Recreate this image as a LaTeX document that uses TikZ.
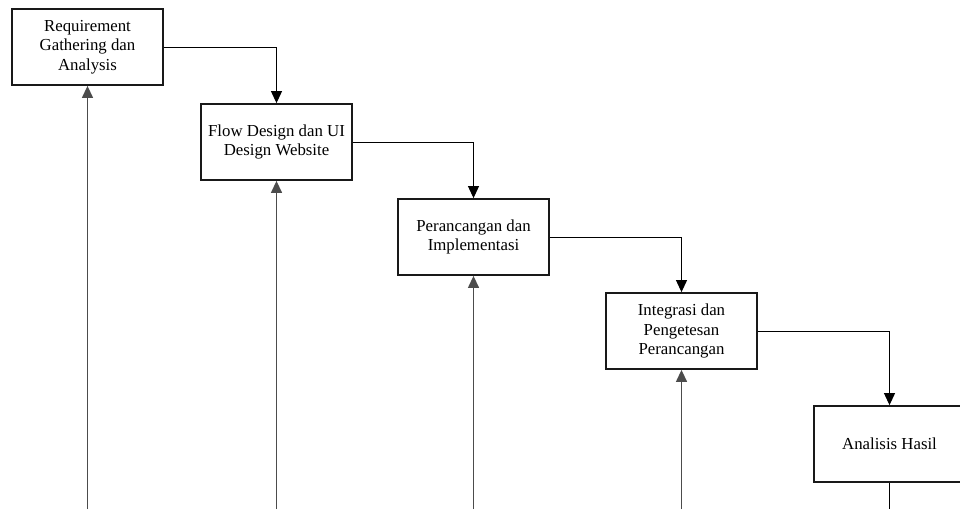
\documentclass[tikz,border=0pt]{standalone}
\usepackage{fontspec}
\setmainfont{Liberation Serif}
\usetikzlibrary{arrows.meta}
\begin{document}
\begin{tikzpicture}[x=1pt,y=1pt,
  phase/.style={draw=black!90, line width=1.8pt, minimum width=151pt, minimum height=76pt,
    inner sep=0pt, align=center, font=\fontsize{16.8}{19.5}\selectfont},
  flow/.style={line width=1pt, -{Triangle[length=12pt,width=11pt]}},
  feed/.style={line width=1.3pt, draw=black!70, -{Triangle[length=12pt,width=11pt]}}]
\useasboundingbox (0,0) rectangle (960,-509);
% phases of the waterfall
\node[phase] (req) at (87.5,-47) {Requirement\\Gathering dan\\Analysis};
\node[phase] (des) at (276.5,-142) {Flow Design dan UI\\Design Website};
\node[phase] (imp) at (473.5,-237) {Perancangan dan\\Implementasi};
\node[phase] (tst) at (681.5,-331) {Integrasi dan\\Pengetesan\\Perancangan};
\node[phase] (ana) at (889.5,-444) {Analisis Hasil};
% forward flow
\draw[flow] (req.east) -| (des.north);
\draw[flow] (des.east) -| (imp.north);
\draw[flow] (imp.east) -| (tst.north);
\draw[flow] (tst.east) -| (ana.north);
% return lines entering from below
\coordinate (r1) at (87.5,-509);
\coordinate (r2) at (276.5,-509);
\coordinate (r3) at (473.5,-509);
\coordinate (r4) at (681.5,-509);
\coordinate (r5) at (889.5,-509);
\draw[feed] (r1) -- (req.south);
\draw[feed] (r2) -- (des.south);
\draw[feed] (r3) -- (imp.south);
\draw[feed] (r4) -- (tst.south);
\draw[line width=1pt] (ana.south) -- (r5);
\end{tikzpicture}
\end{document}
